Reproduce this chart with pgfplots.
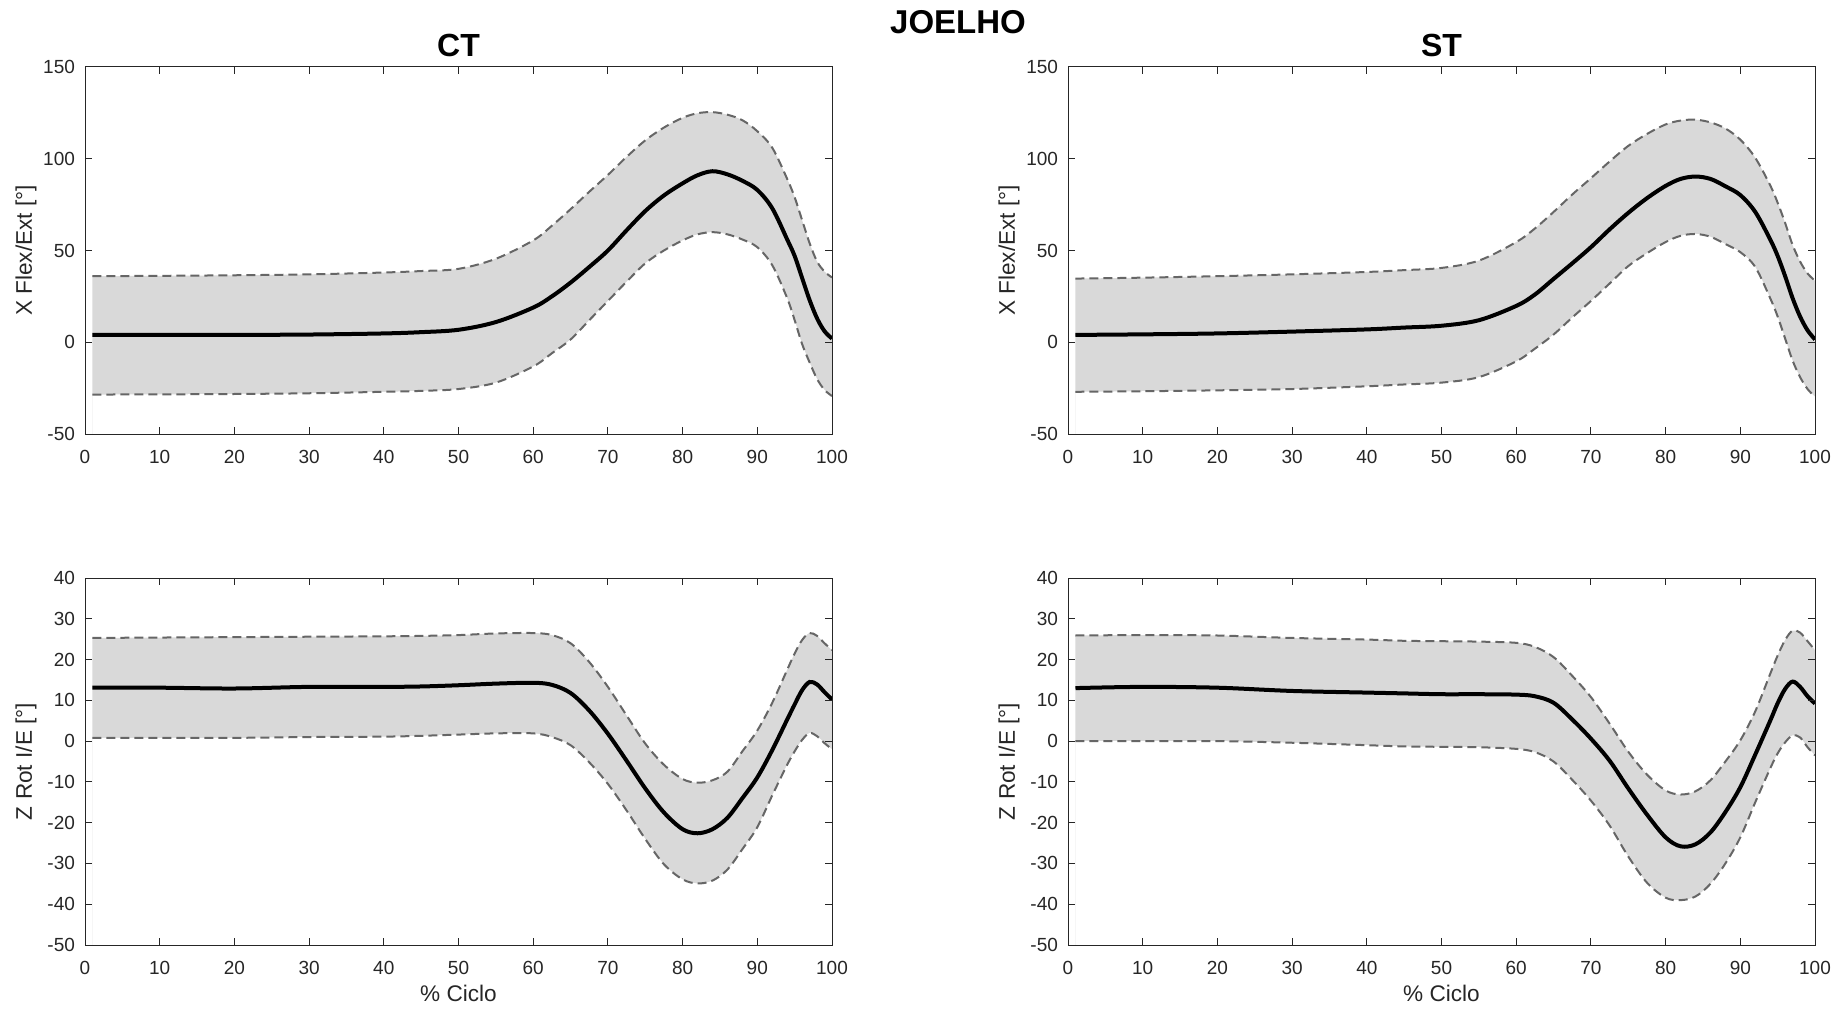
\documentclass[border=0pt]{standalone}
\usepackage{fontspec}
\setmainfont{Liberation Sans}
\usepackage{pgfplots}
\usepackage{pgfplotstable}
\pgfplotsset{compat=1.18}

\definecolor{axgray}{rgb}{0.15,0.15,0.15}
\definecolor{bandfill}{rgb}{0.85,0.85,0.85}
\definecolor{dashgray}{rgb}{0.40,0.40,0.40}

% x  mean  upper  lower
\pgfplotstableread{
x m u l
1 4 36 -28.5
10 4 36.2 -28.4
20 4 36.5 -28.2
30 4.2 37 -27.8
40 4.8 38 -27
45 5.5 38.8 -26.5
50 6.8 40 -25.5
55 11 45.5 -22
60 18.9 55.5 -13.2
62.5 25 63.5 -6
65 32.5 72.5 1.5
67.5 41 82 12
70 50 91.2 22.5
72.5 61 101 33
75 71.5 110 43
77.5 80 117 50
80 86.6 122.3 55.5
82 91 124.8 58.8
84 93.2 125.4 60
86 91.5 124 58.8
88 88 121 56
90 83 115 51.8
92 73 106 42
94 56 89 24
95 47 79 12
96 35 66.5 -1
97 23 54 -11
98 13 44 -20
99 6 38.5 -26
100 2 35.3 -29.3
}\ctx

\pgfplotstableread{
x m u l
1 4 34.7 -27
10 4.3 35.2 -26.7
20 4.8 36 -26.2
30 5.8 37 -25.5
40 7 38.3 -24
45 8 39.3 -23
50 9 40.5 -22
55 12 44.5 -19
60 19.8 54.6 -10.4
62.5 26 62 -3.5
65 34.5 71 4.2
67.5 43 80.5 13.5
70 51.8 89.4 22.5
72.5 61.5 98.5 32
75 70.5 107 41.5
77.5 78.5 113.5 48.5
80 85.2 118.7 54.6
82 89 120.8 58
84 90.3 121.3 59
86 89 119.8 57.5
88 85 116.5 53.5
90 80.2 110.4 49.1
92 71 100.5 41
94 56 85.5 24
95 47 76 14
96 36 65 2
97 24 53 -10
98 14 44 -19
99 6.5 37.5 -25.5
100 1.5 33.5 -29.7
}\stx

\pgfplotstableread{
x m u l
1 13.1 25.3 0.8
10 13.1 25.4 0.8
20 12.9 25.5 0.8
30 13.3 25.6 1
40 13.3 25.7 1.1
45 13.4 25.8 1.3
50 13.7 26 1.6
55 14.1 26.4 1.9
60 14.3 26.5 1.9
62.5 13.8 26 1
65 11.8 24 -1
67.5 7.5 19.4 -5.2
70 1.8 13.3 -10.5
72.5 -4.8 6.3 -17
75 -11.6 -0.6 -24
77.5 -17.5 -5.8 -30.2
80 -21.6 -9.3 -33.9
82 -22.6 -10.2 -34.9
84 -21.6 -9.6 -34.2
86 -18.8 -7.5 -31.5
88 -14 -2.5 -26.5
90 -8.9 2.6 -21.1
92 -2.2 9.4 -13.3
94 5.3 17.5 -5.8
95 9 21.5 -2.5
96 12.5 24.8 0.3
97 14.5 26.5 2
98 13.9 25.8 1.2
99 12 24 -0.5
100 10.2 22.3 -2
}\ctz

\pgfplotstableread{
x m u l
1 13 25.9 0
10 13.3 26 0
20 13.1 25.9 0
30 12.3 25.3 -0.4
40 11.9 24.9 -1
45 11.7 24.6 -1.3
50 11.5 24.5 -1.4
55 11.5 24.4 -1.5
60 11.4 24.1 -1.9
62.5 11 23.1 -2.7
65 9.4 20.6 -5
67.5 5.3 16 -9.5
70 0.6 10.8 -14.6
72.5 -4.8 4.3 -20.7
75 -11.6 -2.6 -28.3
77.5 -18 -8.2 -34.7
80 -23.6 -12.1 -38.4
82 -25.8 -13.1 -39
84 -25.3 -12.3 -38.1
86 -22.4 -9.6 -35
88 -17.4 -5 -30
90 -11.3 0.2 -23.6
92 -3.3 7.3 -15
94 5 16.5 -6.7
95 9.3 21 -3
96 12.8 24.8 -0.3
97 14.6 27.1 1.4
98 13.3 26.6 0.9
99 11 24.5 -1.5
100 9.2 22.3 -3.5
}\stz

\pgfplotsset{
  panel/.style={
    scale only axis,
    width=373.5pt, height=183.5pt,
    xmin=0, xmax=100,
    xtick={0,10,...,100},
    axis on top,
    axis line style={draw=axgray, line width=0.5pt},
    tick style={draw=axgray, line width=0.5pt},
    major tick length=3.7pt,
    tick align=inside,
    scaled ticks=false,
    /pgf/number format/assume math mode=true,
    ticklabel style={font=\fontsize{9.5}{11}\selectfont, text=axgray},
    xticklabel style={yshift=-4.5pt},
    yticklabel style={xshift=-1.5pt},
    label style={font=\fontsize{11.3}{13}\selectfont, text=axgray},
    xlabel style={at={(axis description cs:0.5,0)}, anchor=center, yshift=-24pt},
    ylabel style={at={(axis description cs:-0.079,0.5)}, anchor=center},
    title style={font=\bfseries\fontsize{16}{19}\selectfont, at={(axis description cs:0.5,1)}, anchor=center, yshift=5pt},
  },
  topp/.style={ymin=-50, ymax=150, ytick={-50,0,50,100,150}, ylabel={X Flex/Ext [°]}},
  botp/.style={ymin=-50, ymax=40, ytick={-50,-40,...,40}, ylabel={Z Rot I/E [°]}, xlabel={\% Ciclo}},
  sm/.style={smooth, tension=0.55},
  bnd/.style={sm, dashgray, line width=1pt, dash pattern=on 4.5pt off 2.5pt},
  meanl/.style={sm, black, line width=2pt},
}

\newcommand{\panelplots}[1]{%
  \addplot[sm, fill=bandfill, draw=none] table[x=x,y=u] {#1}
     -- (rel axis cs:1,0) -- ({axis cs:1,0} |- {rel axis cs:0,0}) -- cycle;
  \addplot[sm, fill=white, draw=none] table[x=x,y=l] {#1}
     -- (rel axis cs:1,0) -- ({axis cs:1,0} |- {rel axis cs:0,0}) -- cycle;
  \addplot[bnd] table[x=x,y=u] {#1};
  \addplot[bnd] table[x=x,y=l] {#1};
  \addplot[meanl] table[x=x,y=m] {#1};
}

\begin{document}
\begin{tikzpicture}
\path[use as bounding box] (0,0) rectangle (922.5pt,504pt);

\begin{axis}[panel, topp, at={(42.5pt,287pt)}, anchor=south west, title={CT}]
\panelplots{\ctx}
\end{axis}

\begin{axis}[panel, topp, at={(534pt,287pt)}, anchor=south west, title={ST}]
\panelplots{\stx}
\end{axis}

\begin{axis}[panel, botp, at={(42.5pt,31.5pt)}, anchor=south west]
\panelplots{\ctz}
\end{axis}

\begin{axis}[panel, botp, at={(534pt,31.5pt)}, anchor=south west]
\panelplots{\stz}
\end{axis}

\node[font=\bfseries\fontsize{16.5}{19}\selectfont, anchor=center] at (479pt,493pt) {JOELHO};
\end{tikzpicture}
\end{document}
